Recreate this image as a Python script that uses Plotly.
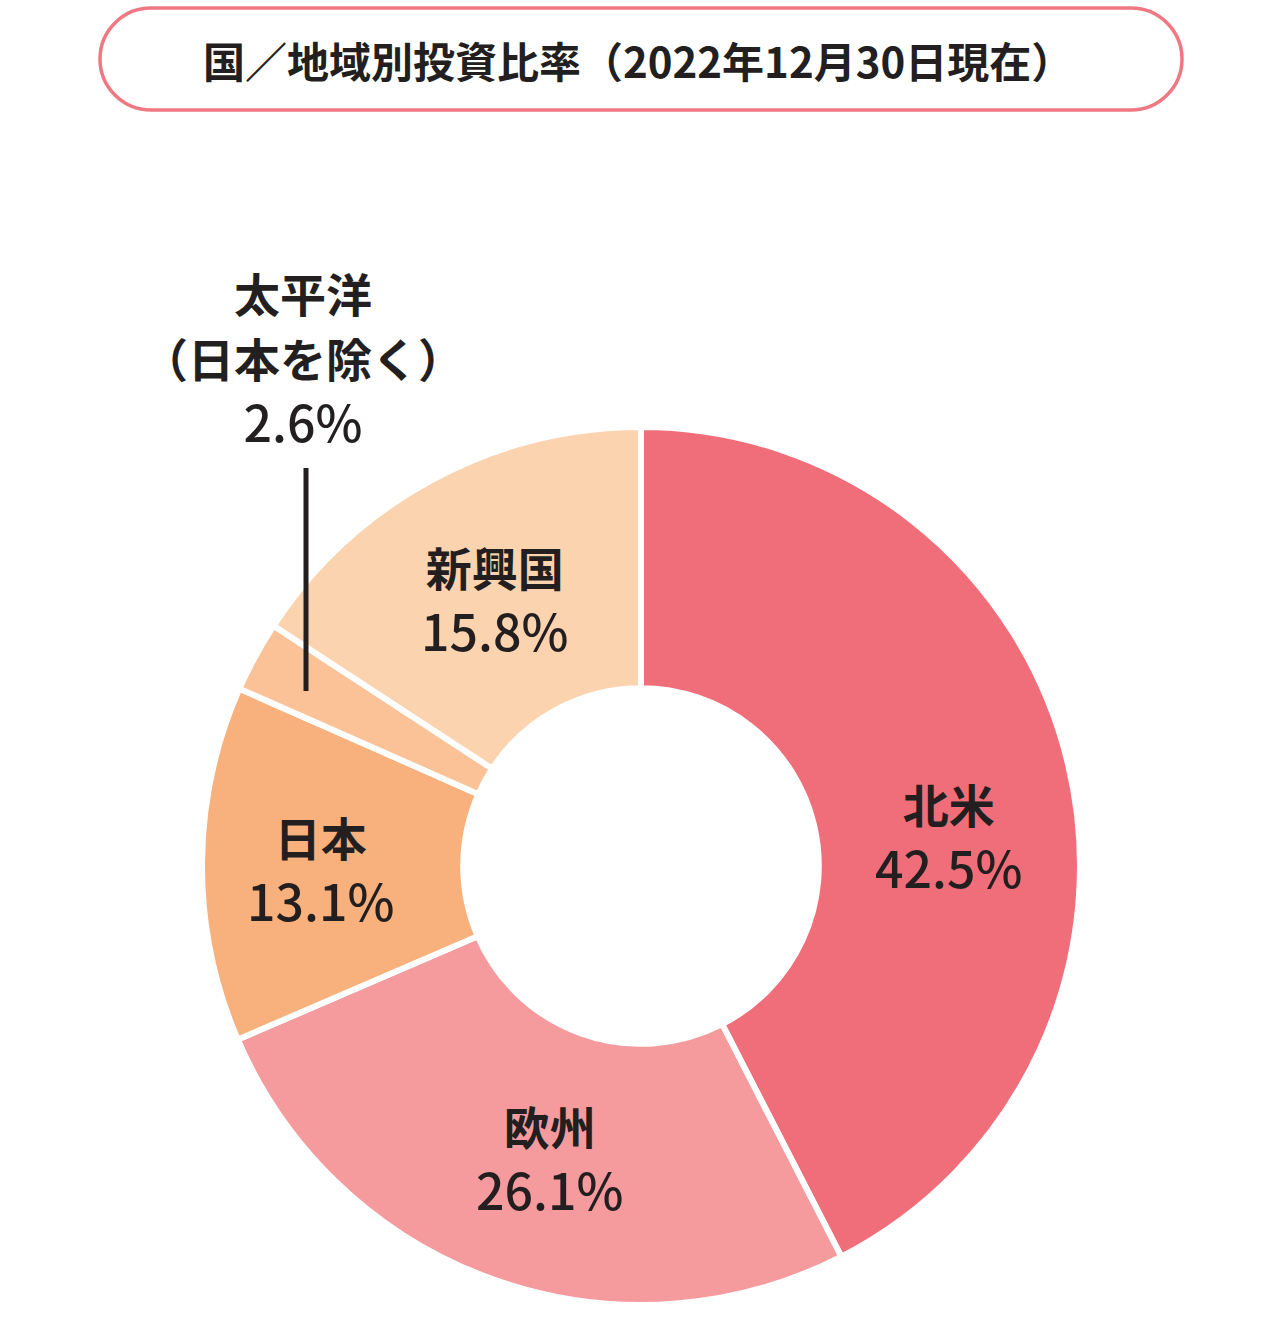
import plotly.graph_objects as go

# ---- data ----
categories = ["北米", "欧州", "日本", "太平洋（日本を除く）", "新興国"]
values = [42.5, 26.1, 13.1, 2.6, 15.8]
colors = ["#F06E7A", "#F59B9E", "#F8B07C", "#FAC296", "#FCD3AF"]
title_text = "国／地域別投資比率（2022年12月30日現在）"

W, H = 1279, 1334
TXT = "#231F20"
FONT = "Noto Sans CJK JP"


def px(x):
    return x / W


def py(y):
    return 1 - y / H


cx, cy, R = 641, 866, 439

fig = go.Figure(
    go.Pie(
        labels=categories,
        values=values,
        hole=0.405,
        sort=False,
        direction="clockwise",
        rotation=0,
        marker=dict(colors=colors, line=dict(color="white", width=6)),
        textinfo="none",
        hoverinfo="label+percent",
        showlegend=False,
        domain=dict(x=[px(cx - R), px(cx + R)], y=[py(cy + R), py(cy - R)]),
    )
)

annotations = []


def add_label(lines, val, x, y):
    name = "<br>".join(f"<span style='font-size:46px'><b>{l}</b></span>" for l in lines)
    annotations.append(
        dict(
            text=f"{name}<br>{val:.1f}%",
            x=px(x), y=py(y), xref="paper", yref="paper",
            xanchor="center", yanchor="middle", align="center", showarrow=False,
            font=dict(family=FONT, size=50, color=TXT, weight=500),
        )
    )


# label block centers (pixels)
label_pos = {
    "北米": (948, 836),
    "欧州": (549, 1158),
    "日本": (320, 869),
    "新興国": (494, 599),
}
for cat, val in zip(categories, values):
    if cat in label_pos:
        add_label([cat], val, *label_pos[cat])

# 太平洋 outside label
add_label(["太平洋", "（日本を除く）"], values[3], 303, 358)

# title
annotations.append(
    dict(
        text=title_text, x=px(638), y=py(60), xref="paper", yref="paper",
        xanchor="center", yanchor="middle", showarrow=False,
        font=dict(family=FONT, size=42, color=TXT, weight=700),
    )
)

# pill-shaped frame around title
x0, x1, y0, y1 = 100, 1182, 8, 110
r = (y1 - y0) / 2
k = 0.5523 * r


def P(x, y):
    return f"{px(x):.6f},{py(y):.6f}"


path = (
    f"M {P(x0 + r, y0)} L {P(x1 - r, y0)} "
    f"C {P(x1 - r + k, y0)} {P(x1, y0 + r - k)} {P(x1, y0 + r)} "
    f"C {P(x1, y0 + r + k)} {P(x1 - r + k, y1)} {P(x1 - r, y1)} "
    f"L {P(x0 + r, y1)} "
    f"C {P(x0 + r - k, y1)} {P(x0, y1 - r + k)} {P(x0, y1 - r)} "
    f"C {P(x0, y1 - r - k)} {P(x0 + r - k, y0)} {P(x0 + r, y0)} Z"
)

shapes = [
    dict(type="path", path=path, xref="paper", yref="paper",
         line=dict(color="#F07882", width=3.5), fillcolor="rgba(0,0,0,0)"),
    dict(type="line", xref="paper", yref="paper",
         x0=px(306), x1=px(306), y0=py(468), y1=py(691),
         line=dict(color=TXT, width=5)),
]

fig.update_layout(
    width=W, height=H,
    margin=dict(l=0, r=0, t=0, b=0),
    paper_bgcolor="white", plot_bgcolor="white",
    annotations=annotations, shapes=shapes,
    font=dict(family=FONT),
)

fig.write_html("out.html")
